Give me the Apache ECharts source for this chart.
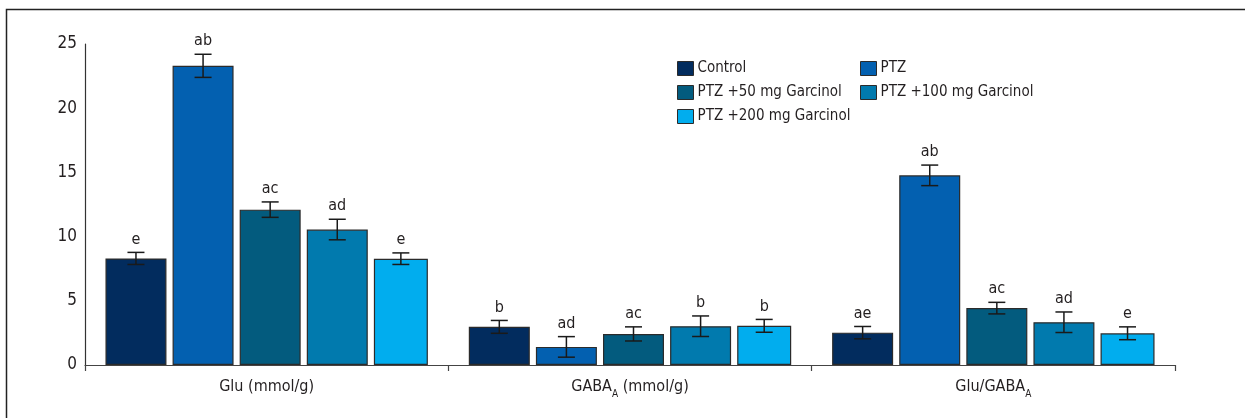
<!DOCTYPE html>
<html>
<head>
<meta charset="utf-8">
<script src="https://cdn.jsdelivr.net/npm/echarts@6/dist/echarts.min.js"></script>
<style>
  html, body { margin: 0; padding: 0; background: #fff; }
  #chart { width: 1245px; height: 418px; }
</style>
</head>
<body>
<div id="chart"></div>
<script>
// Measured groups on the x axis
const categories = ['Glu (mmol/g)', 'GABA_A (mmol/g)', 'Glu/GABA_A'];

// Treatment groups (legend order)
const groupNames = ['Control', 'PTZ', 'PTZ +50 mg Garcinol', 'PTZ +100 mg Garcinol', 'PTZ +200 mg Garcinol'];

// Means per group
const controlValues = [8.3, 2.97, 2.52];
const ptzValues = [23.3, 1.41, 14.77];
const g50Values = [12.1, 2.42, 4.43];
const g100Values = [10.55, 3.02, 3.33];
const g200Values = [8.28, 3.05, 2.47];

// Error (±) per group
const controlErr = [0.47, 0.5, 0.48];
const ptzErr = [0.9, 0.8, 0.8];
const g50Err = [0.6, 0.55, 0.45];
const g100Err = [0.8, 0.8, 0.8];
const g200Err = [0.45, 0.5, 0.5];

// Significance letters above each bar
const controlSig = ['e', 'b', 'ae'];
const ptzSig = ['ab', 'ad', 'ab'];
const g50Sig = ['ac', 'ac', 'ac'];
const g100Sig = ['ad', 'b', 'ad'];
const g200Sig = ['e', 'b', 'e'];

// Y-axis ticks
const yTicks = [0, 5, 10, 15, 20, 25];

const values = [controlValues, ptzValues, g50Values, g100Values, g200Values];
const errors = [controlErr, ptzErr, g50Err, g100Err, g200Err];
const letters = [controlSig, ptzSig, g50Sig, g100Sig, g200Sig];

const colors = ['#022c5e', '#0360b0', '#035b7e', '#017aae', '#01adee'];
const barWidths = [61, 61, 61, 61, 54];
const barGapRatio = 0.1;
const FONT = '"Liberation Sans Narrow", "DejaVu Sans Condensed", "Roboto Condensed", "Liberation Sans", sans-serif';
const TEXT = '#231f20';

// Centre offset of each bar within its category, mirroring the bar layout
const totalW = barWidths.reduce((s, w) => s + w * (1 + barGapRatio), 0) - barWidths[barWidths.length - 1] * barGapRatio;
const barOffsets = [];
{
  let off = -totalW / 2;
  barWidths.forEach(w => { barOffsets.push(off + w / 2); off += w * (1 + barGapRatio); });
}

const series = [];
groupNames.forEach((name, s) => {
  series.push({
    name: name,
    type: 'bar',
    data: values[s],
    barWidth: barWidths[s],
    barGap: (barGapRatio * 100) + '%',
    itemStyle: { color: colors[s], borderColor: '#2b2b2b', borderWidth: 1.2 },
    emphasis: { disabled: true },
    animation: false,
    z: 2
  });
});

// Error bars and letters drawn over the bars
groupNames.forEach((name, s) => {
  series.push({
    type: 'custom',
    name: name + ' err',
    data: values[s].map((v, i) => [i, v, errors[s][i]]),
    encode: { x: 0, y: 1 },
    silent: true,
    animation: false,
    z: 5,
    renderItem: function (params, api) {
      const i = api.value(0);
      const v = api.value(1);
      const e = api.value(2);
      const label = letters[s][i];
      const center = api.coord([i, v]);
      const x = center[0] + barOffsets[s];
      const top = api.coord([i, v + e])[1];
      const bot = api.coord([i, v - e])[1];
      const cap = 8.5;
      const st = { stroke: '#1a1a1a', lineWidth: 1.5 };
      return {
        type: 'group',
        children: [
          { type: 'line', shape: { x1: x, y1: top, x2: x, y2: bot }, style: st },
          { type: 'line', shape: { x1: x - cap, y1: top, x2: x + cap, y2: top }, style: st },
          { type: 'line', shape: { x1: x - cap, y1: bot, x2: x + cap, y2: bot }, style: st },
          {
            type: 'text',
            style: {
              x: x, y: top - 5, text: label,
              align: 'center', verticalAlign: 'bottom',
              font: '16px ' + FONT, fill: TEXT
            }
          }
        ]
      };
    }
  });
});

const chart = echarts.init(document.getElementById('chart'), null, { renderer: 'canvas' });

const legendCommon = {
  orient: 'vertical',
  top: 56,
  icon: 'rect',
  itemWidth: 16, itemHeight: 14, itemGap: 9,
  textStyle: { fontFamily: FONT, fontSize: 15, color: TEXT, padding: [0, 0, 0, -1] },
  itemStyle: { borderColor: '#2b2b2b', borderWidth: 1 },
  selectedMode: false
};

chart.setOption({
  backgroundColor: '#ffffff',
  animation: false,
  graphic: [{
    type: 'rect',
    shape: { x: 6.5, y: 9.5, width: 1400, height: 600 },
    style: { fill: 'none', stroke: '#222', lineWidth: 1.5 },
    silent: true,
    z: -1
  }],
  legend: [
    Object.assign({}, legendCommon, { left: 672, data: [groupNames[0], groupNames[2], groupNames[4]] }),
    Object.assign({}, legendCommon, { left: 855, data: [groupNames[1], groupNames[3]] })
  ],
  grid: { left: 85, right: 70, top: 44, bottom: 53, containLabel: false },
  xAxis: {
    type: 'category',
    data: categories,
    axisLine: { show: true, lineStyle: { color: '#444', width: 1.2 } },
    axisTick: { show: true, length: 6, lineStyle: { color: '#444', width: 1.2 } },
    axisLabel: {
      margin: 9,
      fontFamily: FONT, fontSize: 16, color: TEXT,
      formatter: function (v) {
        return v.replace(/GABA_A/g, '{m|GABA}{s|A}').replace(/^([^{]+)$/, '{m|$1}')
                .replace(/\}([^{]+)$/, '}{m|$1}');
      },
      rich: {
        m: { fontFamily: FONT, fontSize: 16, color: TEXT, lineHeight: 26 },
        s: { fontFamily: FONT, fontSize: 10, color: TEXT, padding: [14, 0, 0, 0] }
      }
    },
    splitLine: { show: false }
  },
  yAxis: {
    type: 'value',
    min: yTicks[0], max: yTicks[yTicks.length - 1], interval: 5,
    axisLine: { show: true, lineStyle: { color: '#333', width: 1.2 } },
    axisTick: { show: false },
    axisLabel: { fontFamily: FONT, fontSize: 17, color: TEXT, margin: 8 },
    splitLine: { show: false }
  },
  series: series
});
</script>
</body>
</html>
